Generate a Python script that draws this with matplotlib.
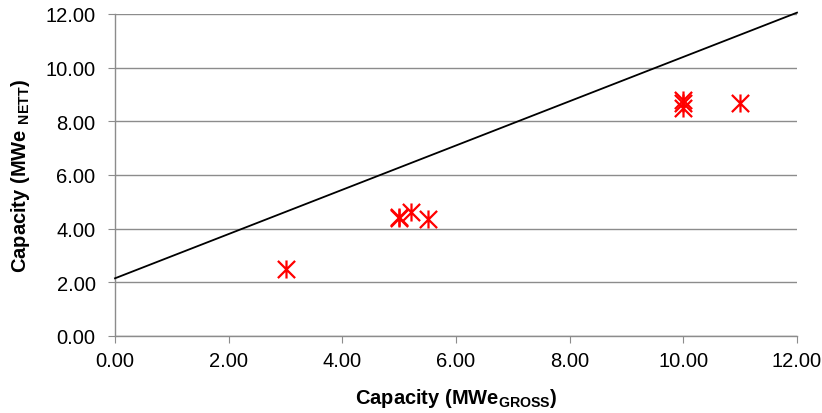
import matplotlib
matplotlib.use("Agg")
import matplotlib.pyplot as plt
from matplotlib.path import Path
from matplotlib.ticker import FormatStrFormatter, MultipleLocator

plt.rcParams['font.family'] = ['Liberation Sans', 'DejaVu Sans']
plt.rcParams['mathtext.fontset'] = 'custom'
plt.rcParams['mathtext.rm'] = 'Liberation Sans'
plt.rcParams['mathtext.bf'] = 'Liberation Sans:bold'

# Data
gross = [3.0, 5.0, 5.0, 5.2, 5.5, 10.0, 10.0, 10.0, 11.0]
nett = [2.5, 4.38, 4.45, 4.62, 4.35, 8.5, 8.7, 8.8, 8.7]
line_x = [0.0, 12.0]
line_y = [2.15, 12.05]

# Excel-style star marker: an X plus a vertical bar
star = Path([(-1, -1), (1, 1), (-1, 1), (1, -1), (0, -1.05), (0, 1.05)],
            [Path.MOVETO, Path.LINETO, Path.MOVETO, Path.LINETO, Path.MOVETO, Path.LINETO])

fig = plt.figure(figsize=(8.22, 4.14), dpi=100)
ax = fig.add_axes([0.1399, 0.186, 0.8297, 0.7778])

ax.set_xlim(0, 12)
ax.set_ylim(0, 12)
ax.xaxis.set_major_locator(MultipleLocator(2))
ax.yaxis.set_major_locator(MultipleLocator(2))
ax.xaxis.set_major_formatter(FormatStrFormatter('%.2f'))
ax.yaxis.set_major_formatter(FormatStrFormatter('%.2f'))

ax.grid(axis='y', color='#8c8c8c', linewidth=1.0)
ax.set_axisbelow(True)
for s in ['top', 'right']:
    ax.spines[s].set_visible(False)
for s in ['left', 'bottom']:
    ax.spines[s].set_color('#8c8c8c')
    ax.spines[s].set_linewidth(1.0)
ax.tick_params(direction='out', length=5, color='#8c8c8c', labelsize=14.5)
ax.tick_params(axis='y', pad=9)
ax.tick_params(axis='x', pad=6)

ax.plot(line_x, line_y, color='black', linewidth=1.3, clip_on=False, zorder=3)
ax.plot(gross, nett, linestyle='none', marker=star, markersize=13,
        markeredgecolor='red', markeredgewidth=1.6, markerfacecolor='none', zorder=4)

ax.set_xlabel(r'Capacity (MWe$_{\mathbf{GROSS}}$)', fontsize=14.5, fontweight='bold', labelpad=11)
ax.set_ylabel(r'Capacity (MWe $_{\mathbf{NETT}}$)', fontsize=14.5, fontweight='bold', labelpad=10)

fig.savefig('out.png', dpi=100)
